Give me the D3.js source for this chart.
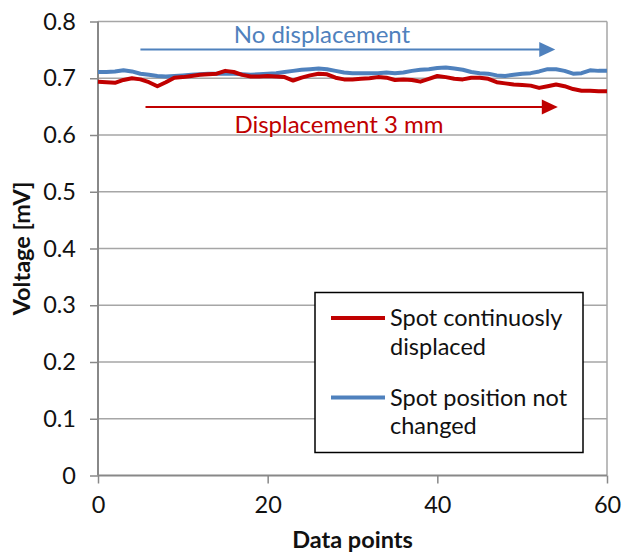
<!DOCTYPE html>
<html>
<head>
<meta charset="utf-8">
<script src="https://cdn.jsdelivr.net/npm/d3@7"></script>
<style>
  body { margin: 0; background: #fff; }
  text { font-family: Lato, "Open Sans", sans-serif; }
</style>
</head>
<body>
<div id="chart"></div>
<script>
// values, one per data point (0..60)
var displaced = [0.694, 0.693, 0.692, 0.697, 0.700, 0.698, 0.693, 0.686, 0.693, 0.701,
  0.702, 0.704, 0.706, 0.707, 0.708, 0.713, 0.711, 0.706, 0.703, 0.703,
  0.704, 0.703, 0.702, 0.696, 0.701, 0.705, 0.708, 0.707, 0.701, 0.698,
  0.698, 0.699, 0.700, 0.702, 0.701, 0.697, 0.698, 0.697, 0.694, 0.699,
  0.704, 0.702, 0.699, 0.698, 0.701, 0.701, 0.699, 0.693, 0.691, 0.689,
  0.688, 0.687, 0.683, 0.686, 0.689, 0.686, 0.681, 0.678, 0.678, 0.677, 0.677];
var notChanged = [0.711, 0.711, 0.712, 0.714, 0.712, 0.708, 0.706, 0.704, 0.703, 0.704,
  0.705, 0.706, 0.707, 0.708, 0.708, 0.708, 0.708, 0.707, 0.706, 0.707,
  0.708, 0.709, 0.711, 0.713, 0.715, 0.716, 0.717, 0.716, 0.713, 0.710,
  0.709, 0.709, 0.709, 0.709, 0.710, 0.709, 0.710, 0.713, 0.715, 0.716,
  0.718, 0.719, 0.717, 0.715, 0.711, 0.709, 0.708, 0.705, 0.704, 0.706,
  0.708, 0.709, 0.712, 0.716, 0.716, 0.713, 0.708, 0.709, 0.714, 0.713, 0.713];
var xTicks = [0, 20, 40, 60];
var yTicks = [0, 0.1, 0.2, 0.3, 0.4, 0.5, 0.6, 0.7, 0.8];
var seriesNames = ['Spot continuosly|displaced', 'Spot position not|changed'];
var colors = ['#c00000', '#4f81bd'];

var width = 624, height = 552;
var margin = {left: 98, right: 17, top: 21.5, bottom: 76.5};
var fs = '23.5px';

var svg = d3.select('#chart').append('svg')
    .attr('width', width)
    .attr('height', height);

var x = d3.scaleLinear().domain([0, 60]).range([margin.left, width - margin.right]);
var y = d3.scaleLinear().domain([0, 0.8]).range([height - margin.bottom, margin.top]);

// gridlines
svg.append('g')
    .selectAll('line')
    .data(yTicks.slice(1))
    .enter()
    .append('line')
    .attr('x1', x(0))
    .attr('x2', x(60))
    .attr('y1', function(d) { return y(d); })
    .attr('y2', function(d) { return y(d); })
    .attr('stroke', '#a6a6a6')
    .attr('stroke-width', 1.5);

// right border
svg.append('line')
    .attr('x1', x(60)).attr('x2', x(60))
    .attr('y1', y(0)).attr('y2', y(0.8))
    .attr('stroke', '#a6a6a6')
    .attr('stroke-width', 1.5);

var yAxis = svg.append('g')
    .attr('transform', 'translate(' + x(0) + ',0)')
    .call(d3.axisLeft(y).tickValues(yTicks).tickSize(8).tickPadding(14)
      .tickFormat(function(d) { return d === 0 ? '0' : d3.format('.1f')(d); }));

var xAxis = svg.append('g')
    .attr('transform', 'translate(0,' + y(0) + ')')
    .call(d3.axisBottom(x).tickValues(xTicks).tickSize(8).tickPadding(13));

[yAxis, xAxis].forEach(function(a) {
  a.select('.domain').attr('stroke', '#888').attr('stroke-width', 2);
  a.selectAll('.tick line').attr('stroke', '#888').attr('stroke-width', 1.5);
  a.selectAll('.tick text')
    .attr('fill', '#111')
    .style('font-size', fs)
    .style('font-family', 'Lato, sans-serif');
});
xAxis.select('.domain').attr('d', 'M' + x(0) + ',0H' + x(60));
yAxis.select('.domain').attr('d', 'M0,' + y(0) + 'V' + y(0.8));

// axis titles
svg.append('text')
    .attr('x', (x(0) + x(60)) / 2)
    .attr('y', 548)
    .attr('text-anchor', 'middle')
    .style('font-size', fs)
    .style('font-weight', 'bold')
    .attr('fill', '#111')
    .text('Data points');

svg.append('text')
    .attr('transform', 'translate(30,' + ((y(0) + y(0.8)) / 2) + ') rotate(-90)')
    .attr('text-anchor', 'middle')
    .style('font-size', fs)
    .style('font-weight', 'bold')
    .attr('fill', '#111')
    .text('Voltage [mV]');

// lines
var line = d3.line()
    .x(function(d, i) { return x(i); })
    .y(function(d) { return y(d); });

svg.selectAll('.series')
    .data([notChanged, displaced])
    .enter()
    .append('path')
    .attr('class', 'series')
    .attr('d', line)
    .attr('fill', 'none')
    .attr('stroke', function(d, i) { return i == 0 ? colors[1] : colors[0]; })
    .attr('stroke-width', 4)
    .attr('stroke-linejoin', 'round');

// arrows with notes
var notes = [
  {label: 'No displacement', color: colors[1], x1: 5, x2: 53.9, yv: 0.7505, tx: 26.4, ty: 0.7795},
  {label: 'Displacement 3 mm', color: colors[0], x1: 5.6, x2: 54.2, yv: 0.6495, tx: 28.4, ty: 0.6205}
];

notes.forEach(function(n) {
  var ya = y(n.yv);
  svg.append('line')
      .attr('x1', x(n.x1)).attr('x2', x(n.x2) - 14)
      .attr('y1', ya).attr('y2', ya)
      .attr('stroke', n.color)
      .attr('stroke-width', 2);
  svg.append('path')
      .attr('d', 'M' + x(n.x2) + ',' + ya + 'L' + (x(n.x2) - 16) + ',' + (ya - 7.5) +
        'L' + (x(n.x2) - 16) + ',' + (ya + 7.5) + 'Z')
      .attr('fill', n.color);
  svg.append('text')
      .attr('x', x(n.tx))
      .attr('y', y(n.ty))
      .attr('text-anchor', 'middle')
      .attr('dominant-baseline', 'central')
      .style('font-size', '24px')
      .attr('fill', n.color)
      .text(n.label);
});

// legend
var legend = svg.append('g');
legend.append('rect')
    .attr('x', 315).attr('y', 292.5)
    .attr('width', 268).attr('height', 160)
    .attr('fill', '#fff')
    .attr('stroke', '#000')
    .attr('stroke-width', 1.5);

seriesNames.forEach(function(name, i) {
  var ly = 318 + i * 79.5;
  legend.append('line')
      .attr('x1', 331).attr('x2', 385)
      .attr('y1', ly).attr('y2', ly)
      .attr('stroke', colors[i])
      .attr('stroke-width', 4);
  var t = legend.append('text')
      .attr('x', 390)
      .attr('y', ly)
      .attr('fill', '#111')
      .style('font-size', fs);
  name.split('|').forEach(function(part, k) {
    t.append('tspan')
        .attr('x', 390)
        .attr('dy', k == 0 ? '0.35em' : '1.22em')
        .text(part);
  });
});
</script>
</body>
</html>
